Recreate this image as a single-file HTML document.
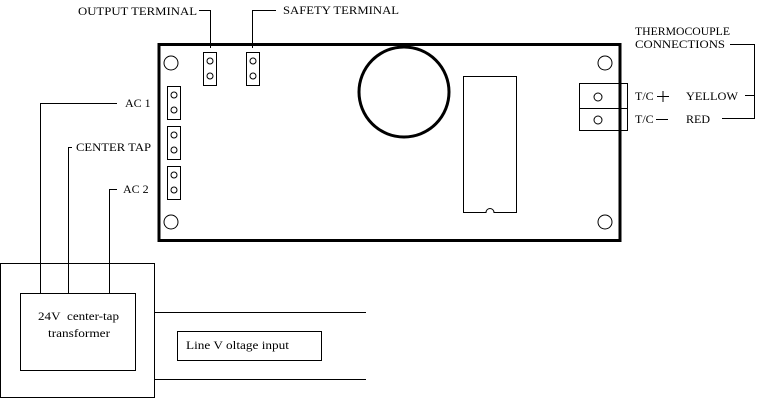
<!DOCTYPE html>
<html><head><style>body{margin:0;background:#fff}svg{display:block}text{font-family:"Liberation Serif",serif;font-size:12px;fill:#000}</style></head><body>
<svg width="762" height="402" viewBox="0 0 762 402" xmlns="http://www.w3.org/2000/svg">
<g fill="none" stroke="#000" stroke-width="1">
<rect x="159" y="44.5" width="461" height="196" stroke-width="3"/>
<circle cx="404" cy="92" r="45" stroke-width="3"/>
<path d="M463.5 76.5 H516.5 V212.5 H494 A4 4 0 0 0 486 212.5 H463.5 Z"/>
<circle cx="171" cy="63" r="7"/><circle cx="171" cy="222" r="7"/>
<circle cx="605" cy="63" r="7"/><circle cx="605" cy="222" r="7"/>
<rect x="203.5" y="52.5" width="13" height="33"/><circle cx="210" cy="61" r="3"/><circle cx="210" cy="76" r="3"/>
<rect x="246.5" y="52.5" width="13" height="33"/><circle cx="253" cy="61" r="3"/><circle cx="253" cy="76" r="3"/>
<rect x="167.5" y="86.5" width="13" height="33"/><circle cx="174" cy="95" r="3"/><circle cx="174" cy="110" r="3"/>
<rect x="167.5" y="126.5" width="13" height="33"/><circle cx="174" cy="135" r="3"/><circle cx="174" cy="150" r="3"/>
<rect x="167.5" y="166.5" width="13" height="33"/><circle cx="174" cy="175" r="3"/><circle cx="174" cy="190" r="3"/>
<path d="M199 10.5 H210.5 V48"/>
<path d="M252.5 48 V10.5 H276"/>
<path d="M117 103.5 H40.5 V293"/>
<path d="M72 147.5 H68.5 V293"/>
<path d="M117 189.5 H109.5 V293"/>
<rect x="579.5" y="83.5" width="48" height="47"/><line x1="579.5" y1="108.5" x2="627.5" y2="108.5"/>
<circle cx="598" cy="97" r="4"/><circle cx="598" cy="120" r="4"/>
<path d="M730 44.5 H754.5 V118.5 H722"/><path d="M745 95.5 H754.5"/>
<line x1="657" y1="96.5" x2="669" y2="96.5"/><line x1="663" y1="91" x2="663" y2="102"/>
<line x1="656" y1="119.5" x2="668" y2="119.5"/>
<rect x="0.5" y="263.5" width="154" height="134"/>
<rect x="20.5" y="293.5" width="115" height="77"/>
<path d="M155 312.5 H366 M155 379.5 H366"/>
<rect x="177.5" y="331.5" width="144" height="29"/>
</g>
<text x="78" y="15" textLength="119" lengthAdjust="spacingAndGlyphs">OUTPUT TERMINAL</text>
<text x="283" y="14" textLength="116" lengthAdjust="spacingAndGlyphs">SAFETY TERMINAL</text>
<text x="125" y="107">AC 1</text>
<text x="76" y="151" textLength="75" lengthAdjust="spacingAndGlyphs">CENTER TAP</text>
<text x="123" y="193">AC 2</text>
<text x="635" y="35" textLength="95" lengthAdjust="spacingAndGlyphs">THERMOCOUPLE</text>
<text x="635" y="48" textLength="90" lengthAdjust="spacingAndGlyphs">CONNECTIONS</text>
<text x="635" y="100">T/C</text>
<text x="686" y="100" textLength="52" lengthAdjust="spacingAndGlyphs">YELLOW</text>
<text x="635" y="123">T/C</text>
<text x="686" y="123">RED</text>
<text x="38" y="320" textLength="81" lengthAdjust="spacingAndGlyphs">24V&#160; center-tap</text>
<text x="48" y="337" textLength="62" lengthAdjust="spacingAndGlyphs">transformer</text>
<text x="186" y="349" textLength="103" lengthAdjust="spacingAndGlyphs">Line V oltage input</text>
</svg>
</body></html>
